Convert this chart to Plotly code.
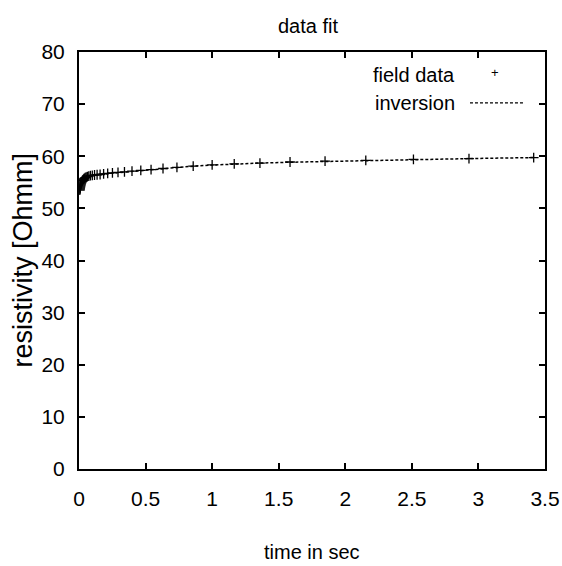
import plotly.graph_objects as go

# time in sec (field data sample times)
times = [0.00631, 0.00736, 0.00858, 0.0100, 0.0117, 0.0136, 0.0158, 0.0185,
         0.0215, 0.0251, 0.0293, 0.0341, 0.0398, 0.0464, 0.0541, 0.0631,
         0.0736, 0.0858, 0.1000, 0.1166, 0.1359, 0.1585, 0.1848, 0.2154,
         0.2512, 0.2929, 0.3415, 0.3981, 0.4642, 0.5412, 0.6310, 0.7356,
         0.8577, 1.0000, 1.166, 1.359, 1.585, 1.848, 2.154, 2.512, 2.929, 3.415]

# field data resistivity [Ohmm]
field_data = [53.5, 53.7, 53.9, 54.1, 54.3, 54.5, 54.7, 54.9,
              55.1, 55.3, 55.45, 55.6, 55.75, 55.9, 56.0, 56.1,
              56.2, 56.3, 56.35, 56.4, 56.45, 56.5, 56.6, 56.7,
              56.8, 56.9, 57.0, 57.15, 57.3, 57.45, 57.65, 57.85,
              58.1, 58.35, 58.55, 58.7, 58.9, 59.05, 59.2, 59.4, 59.55, 59.75]

# inversion result (model response)
inversion = [53.5, 53.7, 53.9, 54.1, 54.3, 54.5, 54.7, 54.9,
             55.1, 55.3, 55.45, 55.6, 55.75, 55.9, 56.0, 56.1,
             56.2, 56.3, 56.35, 56.4, 56.5, 56.55, 56.65, 56.75,
             56.85, 56.95, 57.05, 57.2, 57.35, 57.5, 57.7, 57.9,
             58.1, 58.3, 58.5, 58.7, 58.85, 59.0, 59.2, 59.35, 59.55, 59.75]

x_ticks = [0, 0.5, 1, 1.5, 2, 2.5, 3, 3.5]
x_ticklabels = ["0", "0.5", "1", "1.5", "2", "2.5", "3", "3.5"]
y_ticks = [0, 10, 20, 30, 40, 50, 60, 70, 80]

FONT = "Liberation Sans, Arial, sans-serif"

fig = go.Figure()
fig.add_trace(go.Scatter(
    x=times, y=inversion, mode="lines", name="inversion",
    line=dict(color="black", width=1.5, dash="3px,2px"),
))
fig.add_trace(go.Scatter(
    x=times, y=field_data, mode="markers", name="field data",
    marker=dict(symbol="cross-thin", size=7, line=dict(color="black", width=1.3), color="black"),
))

axis_common = dict(
    showgrid=False, zeroline=False, showline=True, linecolor="black", linewidth=2,
    mirror="allticks", ticks="inside", ticklen=6, tickwidth=1.5, tickcolor="black",
    tickfont=dict(family=FONT, size=21, color="black"), automargin=False,
)

def ann(text, x, y, size, **kw):
    d = dict(text=text, x=x, y=y, xref="paper", yref="paper", showarrow=False,
             xanchor="center", yanchor="middle", font=dict(family=FONT, size=size, color="black"))
    d.update(kw)
    return d

fig.update_layout(
    width=562, height=566,
    margin=dict(l=79, r=17, t=52, b=97),
    paper_bgcolor="white", plot_bgcolor="white",
    showlegend=False,
    font=dict(family=FONT, color="black"),
    xaxis=dict(range=[0, 3.5], tickvals=x_ticks, ticktext=x_ticklabels,
               ticklabelstandoff=10, **axis_common),
    yaxis=dict(range=[0, 80], tickvals=y_ticks, ticklabelstandoff=8, **axis_common),
    annotations=[
        ann("data fit", 0.492, 1, 20, yshift=26),
        ann("time in sec", 0.5, 0, 20, yshift=-83),
        ann("resistivity [Ohmm]", 0, 0.5, 27, xshift=-57, textangle=-90),
        ann("field data", 0.811, 0.945, 20, xanchor="right"),
        ann("inversion", 0.811, 0.878, 20, xanchor="right"),
        ann("+", 0.893, 0.952, 13),
    ],
    shapes=[
        dict(type="line", xref="paper", yref="paper", x0=0.839, x1=0.953,
             y0=0.878, y1=0.878, line=dict(color="black", width=1.2, dash="3px,2px")),
    ],
)

fig.write_html("out.html")
